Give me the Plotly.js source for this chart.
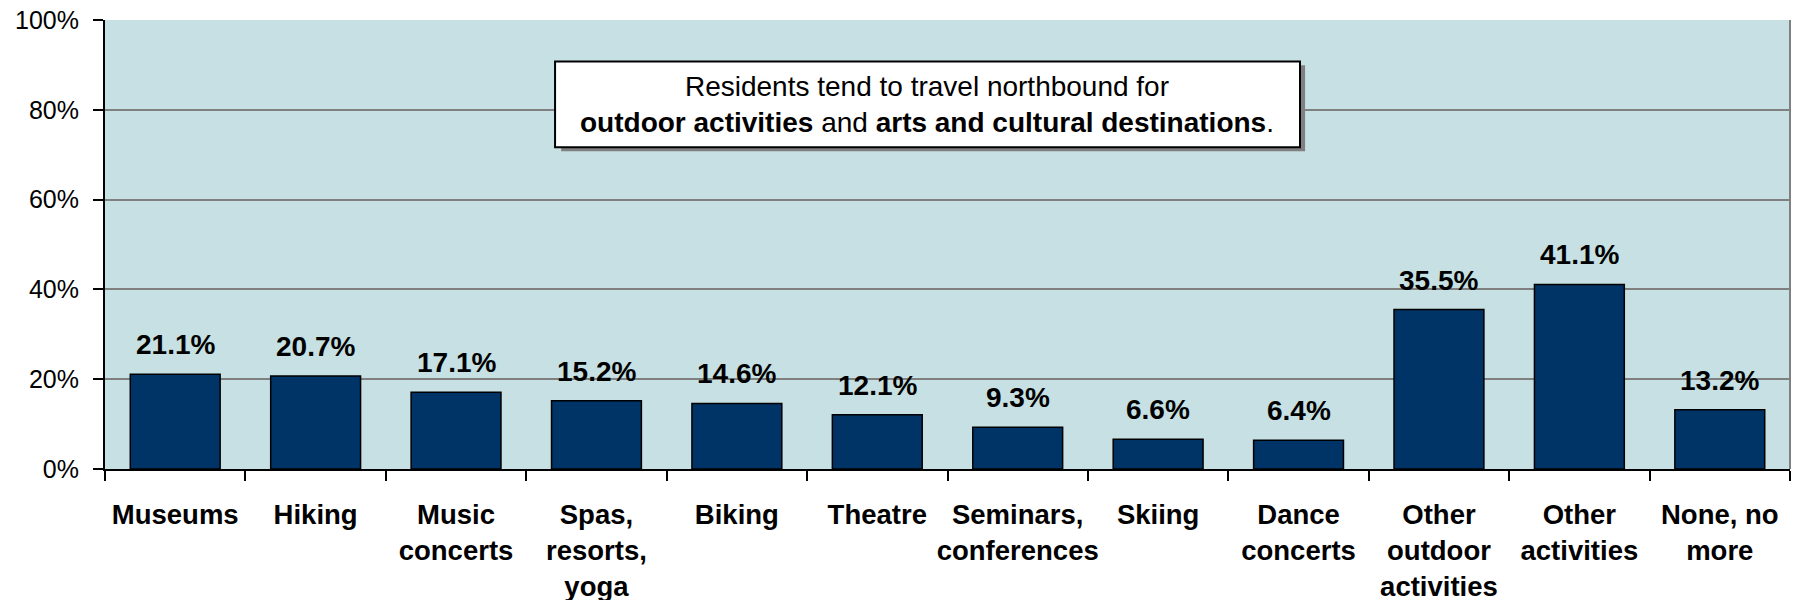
<!DOCTYPE html>
<html>
<head>
<meta charset="utf-8">
<script src="https://cdn.plot.ly/plotly-3.0.1.min.js"></script>
<style>html,body{margin:0;padding:0;background:#fff;}#chart{width:1799px;height:600px;}</style>
</head>
<body>
<div id="chart"></div>
<script>
const categories = ["Museums","Hiking","Music concerts","Spas, resorts, yoga","Biking","Theatre","Seminars, conferences","Skiing","Dance concerts","Other outdoor activities","Other activities","None, no more"];
const tickLabels = ["Museums","Hiking","Music<br>concerts","Spas,<br>resorts,<br>yoga","Biking","Theatre","Seminars,<br>conferences","Skiing","Dance<br>concerts","Other<br>outdoor<br>activities","Other<br>activities","None, no<br>more"];
const values = [21.1, 20.7, 17.1, 15.2, 14.6, 12.1, 9.3, 6.6, 6.4, 35.5, 41.1, 13.2];
const yTicks = [0, 20, 40, 60, 80, 100];
const noteText = "Residents tend to travel northbound for<br><b>outdoor activities</b> and <b>arts and cultural destinations</b>.";

const FONT = "Liberation Sans, Arial, sans-serif";

const trace = {
  type: "bar",
  x: categories,
  y: values,
  width: 0.64,
  marker: {color: "#003366", line: {color: "#000000", width: 1.5}},
  hoverinfo: "x+y"
};

const labelAnns = categories.map((c, i) => ({
  x: c, y: values[i], xref: "x", yref: "y",
  text: "<b>" + values[i].toFixed(1) + "%</b>",
  showarrow: false, yanchor: "bottom", yshift: 12,
  font: {family: FONT, size: 28, color: "#000"}
}));

const layout = {
  width: 1799, height: 600,
  margin: {l: 105, r: 9, t: 19.5, b: 131, pad: 0},
  paper_bgcolor: "#ffffff",
  plot_bgcolor: "#C6E0E3",
  showlegend: false,
  bargap: 0.36,
  font: {family: FONT, color: "#000"},
  xaxis: {
    type: "category",
    tickmode: "array",
    tickvals: categories,
    ticktext: tickLabels,
    tickson: "boundaries",
    ticks: "outside", ticklen: 10, tickwidth: 2, tickcolor: "#000",
    showline: true, linecolor: "#000", linewidth: 2,
    showgrid: false,
    ticklabelstandoff: 20,
    tickfont: {family: FONT, size: 27.5, color: "#000", weight: "bold"},
    tickangle: 0,
    fixedrange: true
  },
  yaxis: {
    range: [0, 100],
    tickmode: "array",
    tickvals: yTicks,
    ticktext: yTicks.map(v => v + "%"),
    ticks: "outside", ticklen: 10, tickwidth: 2, tickcolor: "#000",
    showline: true, linecolor: "#000", linewidth: 2,
    showgrid: true, gridcolor: "#808080", gridwidth: 2,
    zeroline: false,
    tickfont: {family: FONT, size: 25, color: "#000"},
    ticklabelstandoff: 9,
    fixedrange: true
  },
  shapes: [
    {type: "line", xref: "paper", yref: "paper", x0: 1, x1: 1, y0: 0, y1: 1,
     line: {color: "#808080", width: 2}, layer: "above"},
    {type: "rect", xref: "paper", yref: "paper", x0: 0.2707, x1: 0.7122, y0: 0.7075, y1: 0.899,
     fillcolor: "#808080", line: {width: 0}, layer: "above"},
    {type: "rect", xref: "paper", yref: "paper", x0: 0.2671, x1: 0.7092, y0: 0.7164, y1: 0.9077,
     fillcolor: "#ffffff", line: {color: "#000", width: 2}, layer: "above"}
  ],
  annotations: labelAnns.concat([{
    xref: "paper", yref: "paper", x: 0.4881, y: 0.812,
    xanchor: "center", yanchor: "middle",
    text: noteText, showarrow: false, align: "center",
    font: {family: FONT, size: 28, color: "#000"}
  }])
};

Plotly.newPlot("chart", [trace], layout, {displayModeBar: false, staticPlot: true});
</script>
</body>
</html>
